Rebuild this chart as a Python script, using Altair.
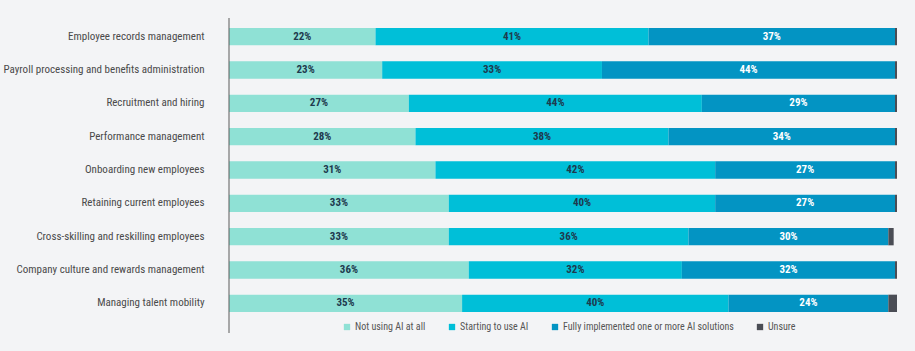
import altair as alt
import pandas as pd

categories = [
    "Employee records management",
    "Payroll processing and benefits administration",
    "Recruitment and hiring",
    "Performance management",
    "Onboarding new employees",
    "Retaining current employees",
    "Cross-skilling and reskilling employees",
    "Company culture and rewards management",
    "Managing talent mobility",
]
series = [
    "Not using AI at all",
    "Starting to use AI",
    "Fully implemented one or more AI solutions",
    "Unsure",
]
not_using = [22, 23, 27, 28, 31, 33, 33, 36, 35]
starting = [41, 33, 44, 38, 42, 40, 36, 32, 40]
fully = [37, 44, 29, 34, 27, 27, 30, 32, 24]
unsure = [0.3, 0.3, 0.3, 0.3, 0.3, 0.3, 0.8, 0.3, 1.3]

colors = ["#8fe1d5", "#00bfd8", "#0394c3", "#4a4d55"]
FONT = "Liberation Sans Narrow, Roboto Condensed, Roboto, sans-serif"

rows = []
for i, c in enumerate(categories):
    for j, vals in enumerate([not_using, starting, fully, unsure]):
        rows.append({"category": c, "series": series[j], "order": j, "value": vals[i]})
df = pd.DataFrame(rows)

base = alt.Chart(df).transform_stack(
    stack="value", as_=["x0", "x1"], groupby=["category"], sort=[alt.SortField("order")]
).transform_calculate(mid="(datum.x0 + datum.x1) / 2", label="datum.value + '%'")

y_enc = alt.Y(
    "category:N",
    sort=categories,
    scale=alt.Scale(paddingInner=0.48, paddingOuter=0.24),
    axis=alt.Axis(
        title=None, domain=False, ticks=False, labelPadding=25, labelLimit=320,
        labelFontSize=11, labelColor="#4a4a4a", labelFont=FONT,
    ),
)
x_scale = alt.Scale(domain=[0, 100.3], nice=False, zero=True)

bars = base.mark_bar().encode(
    y=y_enc,
    x=alt.X("x0:Q", scale=x_scale, axis=None),
    x2="x1:Q",
    color=alt.Color(
        "series:N",
        scale=alt.Scale(domain=series, range=colors),
        legend=alt.Legend(
            title=None, orient="none", legendX=113, legendY=302, direction="horizontal",
            symbolType="square", symbolSize=40, symbolStrokeWidth=0, labelOffset=3,
            labelFontSize=10, labelColor="#555555", labelFont=FONT, columnPadding=21,
            labelLimit=400, padding=0,
        ),
    ),
)

texts = base.transform_filter("datum.order < 3").mark_text(
    fontWeight="bold", fontSize=11, font=FONT
).encode(
    y=alt.Y("category:N", sort=categories),
    x=alt.X("mid:Q", scale=x_scale),
    text="label:N",
    color=alt.condition("datum.order == 2", alt.value("white"), alt.value("#1e3a4e")),
)

axis_line = alt.Chart(pd.DataFrame({"a": [0]})).mark_rule(color="#5a5a5a", strokeWidth=1).encode(
    x=alt.value(0), y=alt.value(-2), y2=alt.value(313)
)

chart = alt.layer(bars, texts, axis_line).properties(
    width=668, height=300, background="#f3f4f6",
    autosize=alt.AutoSizeParams(type="none"),
    padding={"left": 229, "top": 20, "right": 18, "bottom": 31},
).configure_view(stroke=None)

chart.save("out.html", embed_options={"renderer": "svg", "actions": False})
